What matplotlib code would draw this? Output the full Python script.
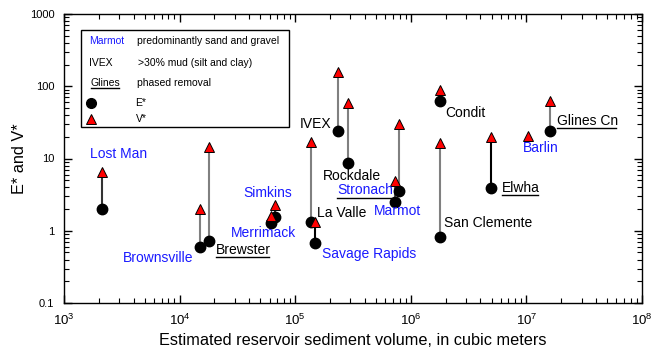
import numpy as np
import matplotlib
matplotlib.use("Agg")
import matplotlib.pyplot as plt
from matplotlib.lines import Line2D
from matplotlib.patches import Rectangle
from matplotlib.ticker import LogLocator, FixedLocator, FixedFormatter

plt.rcParams['font.family'] = ['Liberation Sans', 'DejaVu Sans']
plt.rcParams['mathtext.fontset'] = 'custom'
plt.rcParams['mathtext.rm'] = 'Liberation Sans'
plt.rcParams['mathtext.it'] = 'Liberation Sans:italic'

# ---- data ----
names = ["Lost Man", "Brownsville", "Brewster", "Simkins", "Merrimack", "La Valle",
         "Savage Rapids", "IVEX", "Rockdale", "Stronach", "Marmot", "Condit",
         "San Clemente", "Elwha", "Barlin", "Glines Cn"]
volume = [2130, 15000, 18100, 67300, 61400, 136000,
          149000, 236000, 288000, 796000, 726000, 1.79e6,
          1.79e6, 4.91e6, 1.04e7, 1.59e7]
e_star = [2.02, 0.59, 0.73, 1.53, 1.29, 1.31,
          0.68, 24.0, 8.75, 3.58, 2.48, 63.0,
          0.81, 3.87, np.nan, 24.0]
v_star = [6.57, 1.98, 14.3, 2.27, 1.6, 17.1,
          1.31, 159, 58, 30, 4.88, 88.7,
          16.5, 20.0, 20.7, 63.0]
sandy = [True, True, False, True, True, False,
         True, False, False, True, True, False,
         False, False, True, False]
phased = [False, False, True, False, False, False,
          False, False, False, True, False, False,
          False, True, False, True]
x_ticks = [1e3, 1e4, 1e5, 1e6, 1e7, 1e8]
x_ticklabels = ["$10^3$", "$10^4$", "$10^5$", "$10^6$", "$10^7$", "$10^8$"]
y_ticks = [0.1, 1, 10, 100, 1000]
y_ticklabels = ["0.1", "1", "10", "100", "1000"]

# ---- styles / label placement (pixel offsets) ----
line_colors = ["#333333", "#808080", "#808080", "#333333", "#555555", "#808080",
               "#000000", "#808080", "#808080", "#808080", "#555555", "#808080",
               "#808080", "#000000", "#808080", "#808080"]
label_off = [(-11.6, 54.7, 'left'), (-6.7, -10.4, 'right'), (6.4, -9.3, 'left'),
             (-32.3, 24.6, 'left'), (-40, -10, 'left'), (6, 9, 'left'),
             (6.4, -11.3, 'left'), (-6.6, 6.7, 'right'), (-25.6, -13.3, 'left'),
             (-6.6, 0.7, 'right'), (-20.7, -8.4, 'left'), (5.7, -12, 'left'),
             (4.3, 14.6, 'left'), (11, 0.6, 'left'), (-5, -12.6, 'left'),
             (7, 10.3, 'left')]
BLUE = "#1a1aff"

fig = plt.figure(figsize=(6.6, 3.54), dpi=100)
ax = fig.add_axes([64/660, 51/354, 578/660, 289/354])
ax.set_xscale('log')
ax.set_yscale('log')
ax.set_xlim(1e3, 1e8)
ax.set_ylim(0.1, 1000)

for i in range(len(names)):
    if not np.isnan(e_star[i]):
        ax.plot([volume[i], volume[i]], [e_star[i], v_star[i]], color=line_colors[i],
                lw=1.5, zorder=2, solid_capstyle='butt')
ax.plot(volume, e_star, 'o', color='black', ms=7.5, zorder=3, ls='none')
ax.plot(volume, v_star, '^', mfc='red', mec='black', mew=0.7, ms=7.5, zorder=4, ls='none')

underline_texts = []
for i, nm in enumerate(names):
    yv = e_star[i] if not np.isnan(e_star[i]) else v_star[i]
    dx, dy, ha = label_off[i]
    t = ax.annotate(nm, (volume[i], yv), xytext=(dx, dy), textcoords='offset pixels',
                    ha=ha, va='center', fontsize=10,
                    color=BLUE if sandy[i] else 'black', zorder=5)
    if phased[i]:
        underline_texts.append(t)

# ticks
ax.xaxis.set_major_locator(FixedLocator(x_ticks))
ax.xaxis.set_major_formatter(FixedFormatter(x_ticklabels))
ax.yaxis.set_major_locator(FixedLocator(y_ticks))
ax.yaxis.set_major_formatter(FixedFormatter(y_ticklabels))
ax.xaxis.set_minor_locator(LogLocator(base=10, subs=np.arange(2, 10), numticks=20))
ax.yaxis.set_minor_locator(LogLocator(base=10, subs=np.arange(2, 10), numticks=20))
ax.tick_params(which='both', direction='in', top=True, right=True, color='black')
ax.tick_params(which='major', length=6, width=1, labelsize=8, pad=7)
ax.tick_params(which='minor', length=3.5, width=0.8)
ax.tick_params(axis='x', which='major', pad=7, labelsize=9.5)
for s in ax.spines.values():
    s.set_linewidth(1)

ax.set_xlabel("Estimated reservoir sediment volume, in cubic meters", fontsize=11.7, labelpad=4)
ax.set_ylabel("E* and V*", fontsize=11.7, labelpad=2)

# legend box
box = Rectangle((0.0294, 0.610), 0.3599, 0.3346, transform=ax.transAxes,
                facecolor='white', edgecolor='black', lw=1, zorder=6)
ax.add_patch(box)
ly = [0.9076, 0.8315, 0.7623, 0.691, 0.6384]
lx1, lx2 = 0.0433, 0.1258
ax.text(lx1, ly[0], "Marmot", transform=ax.transAxes, color=BLUE, fontsize=7.5, va='center', zorder=7)
ax.text(lx2, ly[0], "predominantly sand and gravel", transform=ax.transAxes, fontsize=7.5, va='center', zorder=7)
ax.text(lx1, ly[1], "IVEX", transform=ax.transAxes, fontsize=7.5, va='center', zorder=7)
ax.text(lx2 + 0.003, ly[1], ">30% mud (silt and clay)", transform=ax.transAxes, fontsize=7.5, va='center', zorder=7)
tg = ax.text(lx1 + 0.003, ly[2], "Glines", transform=ax.transAxes, fontsize=7.5, va='center', zorder=7)
underline_texts.append(tg)
ax.text(lx2, ly[2], "phased removal", transform=ax.transAxes, fontsize=7.5, va='center', zorder=7)
ax.plot([0.0462], [ly[3]], 'o', color='black', ms=7, transform=ax.transAxes, zorder=7, clip_on=False)
ax.text(lx2 - 0.002, ly[3], "E*", transform=ax.transAxes, fontsize=7.5, va='center', zorder=7)
ax.plot([0.0462], [ly[4]], '^', mfc='red', mec='black', mew=0.7, ms=7, transform=ax.transAxes, zorder=7, clip_on=False)
ax.text(lx2 - 0.002, ly[4], "V*", transform=ax.transAxes, fontsize=7.5, va='center', zorder=7)

# underlines
fig.canvas.draw()
r = fig.canvas.get_renderer()
inv = fig.transFigure.inverted()
for t in underline_texts:
    bb = t.get_window_extent(renderer=r)
    (x0, y0), (x1, _) = inv.transform([(bb.x0 + 0.5, bb.y0 - 0.5), (bb.x1 - 1.5, bb.y0)])
    fig.add_artist(Line2D([x0, x1], [y0, y0], transform=fig.transFigure,
                          color='black', lw=1, zorder=8))

fig.savefig("out.png", dpi=100)
